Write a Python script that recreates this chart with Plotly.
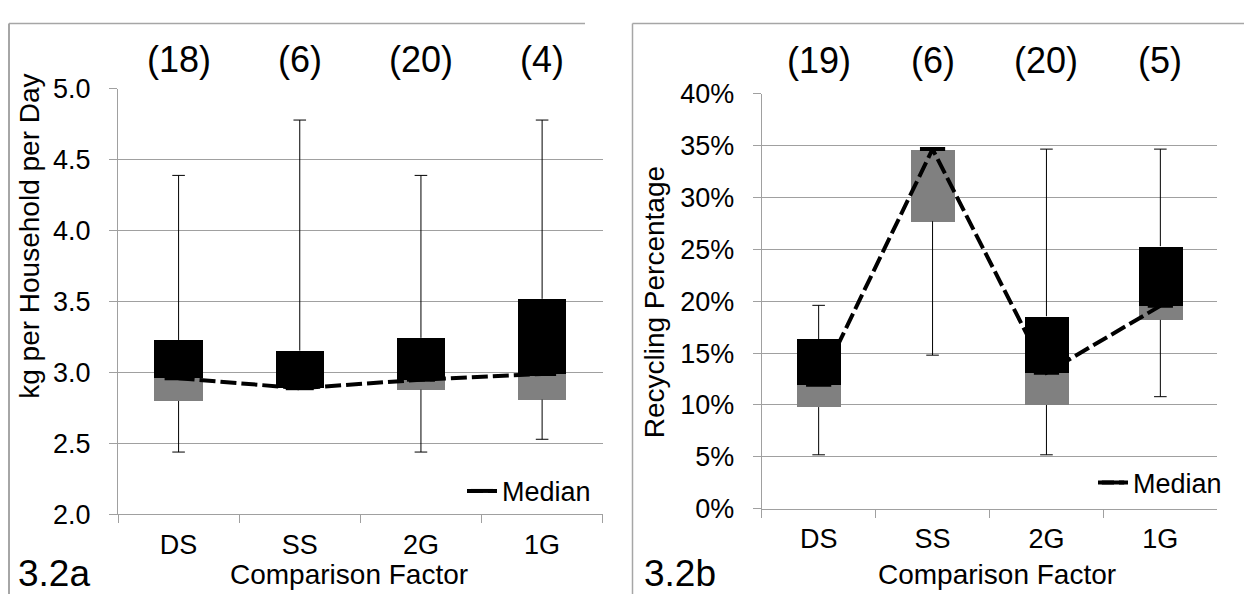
import plotly.graph_objects as go

# The page body keeps the browser's default 8px margin, so the figure is
# sized to fill the rest of the 1252x609 window and positions are offset.
WIN_W, WIN_H = 1252, 609
OFF = 8
W, H = WIN_W - OFF, WIN_H - OFF

categories = ["DS", "SS", "2G", "1G"]

# Panel 3.2a : kg per household per day
a_min = [2.44, 2.89, 2.44, 2.53]
a_q1 = [2.80, 2.89, 2.88, 2.81]
a_median = [2.96, 2.89, 2.95, 2.99]
a_q3 = [3.23, 3.155, 3.245, 3.52]
a_max = [4.39, 4.78, 4.39, 4.78]
a_counts = ["(18)", "(6)", "(20)", "(4)"]

# Panel 3.2b : recycling percentage (%)
b_min = [5.2, 14.8, 5.2, 10.8]
b_q1 = [9.8, 27.7, 10.0, 18.2]
b_median = [11.95, 34.65, 13.1, 19.55]
b_q3 = [16.35, 34.65, 18.55, 25.3]
b_max = [19.6, 34.65, 34.65, 34.65]
b_counts = ["(19)", "(6)", "(20)", "(5)"]

GRID = "#a0a0a0"
GREY = "#808080"
FONT = "Liberation Sans, Arial, sans-serif"


def fx(px):
    return (px - OFF) / W


def fy(py):
    return 1 - (py - OFF) / H


fig = go.Figure()


def add_panel(xa, ya, mn, q1, med, q3, mx, box_w, mark_size, legend_name):
    # grey: Q1 -> median
    fig.add_trace(go.Bar(x=categories, y=[m - a for m, a in zip(med, q1)], base=q1,
                         width=box_w, marker=dict(color=GREY, line=dict(width=0)),
                         xaxis=xa, yaxis=ya, showlegend=False, hoverinfo="skip"))
    # black: median -> Q3
    fig.add_trace(go.Bar(x=categories, y=[b - m for b, m in zip(q3, med)], base=med,
                         width=box_w, marker=dict(color="black", line=dict(width=0)),
                         xaxis=xa, yaxis=ya, showlegend=False, hoverinfo="skip"))
    # whiskers
    wx, wy, cx, cy = [], [], [], []
    for c, lo, a, b, hi in zip(categories, mn, q1, q3, mx):
        if hi > b:
            wx += [c, c, None]
            wy += [b, hi, None]
            cx.append(c)
            cy.append(hi)
        if lo < a:
            wx += [c, c, None]
            wy += [a, lo, None]
            cx.append(c)
            cy.append(lo)
    fig.add_trace(go.Scatter(x=wx, y=wy, mode="lines", line=dict(color="black", width=1),
                             xaxis=xa, yaxis=ya, showlegend=False, hoverinfo="skip"))
    fig.add_trace(go.Scatter(x=cx, y=cy, mode="markers",
                             marker=dict(symbol="line-ew", size=9, line=dict(color="black", width=1)),
                             xaxis=xa, yaxis=ya, showlegend=False, hoverinfo="skip"))
    # median line
    fig.add_trace(go.Scatter(x=categories, y=med, mode="lines+markers", name="Median",
                             line=dict(color="black", width=4, dash="16px,5px"),
                             marker=dict(symbol="line-ew", size=mark_size,
                                         line=dict(color="black", width=4)),
                             xaxis=xa, yaxis=ya, legend=legend_name, showlegend=True,
                             hoverinfo="skip"))


add_panel("x", "y", a_min, a_q1, a_median, a_q3, a_max, 0.4, 20, "legend")
add_panel("x2", "y2", b_min, b_q1, b_median, b_q3, b_max, 0.385, 18, "legend2")

axis_common = dict(showline=True, linecolor=GRID, linewidth=1, ticks="outside", ticklen=8,
                   tickcolor=GRID, tickfont=dict(family=FONT, size=27, color="black"),
                   zeroline=False, fixedrange=True)

xcommon = dict(axis_common, type="category", categoryorder="array", categoryarray=categories,
               tickson="boundaries", showgrid=False, ticklabelstandoff=6)
ycommon = dict(axis_common, showgrid=True, gridcolor=GRID, gridwidth=1, ticklabelstandoff=13)

count_font = dict(family=FONT, size=36, color="black")
annotations = []
for c, t in zip(categories, a_counts):
    annotations.append(dict(x=c, y=fy(46), xref="x", yref="paper", text=t, showarrow=False,
                            font=count_font, xanchor="center", yanchor="middle"))
for c, t in zip(categories, b_counts):
    annotations.append(dict(x=c, y=fy(47), xref="x2", yref="paper", text=t, showarrow=False,
                            font=count_font, xanchor="center", yanchor="middle"))

title_font = dict(family=FONT, size=28, color="black")
annotations += [
    dict(x=fx(349), y=fy(589), xref="paper", yref="paper", text="Comparison Factor",
         showarrow=False, font=title_font, xanchor="center", yanchor="middle"),
    dict(x=fx(997), y=fy(589), xref="paper", yref="paper", text="Comparison Factor",
         showarrow=False, font=title_font, xanchor="center", yanchor="middle"),
    dict(x=fx(30), y=fy(233), xref="paper", yref="paper", text="kg per Household per Day",
         showarrow=False, font=title_font, textangle=-90, xanchor="center", yanchor="middle"),
    dict(x=fx(654), y=fy(302), xref="paper", yref="paper", text="Recycling Percentage",
         showarrow=False, font=title_font, textangle=-90, xanchor="center", yanchor="middle"),
    dict(x=fx(16), y=fy(587), xref="paper", yref="paper", text="3.2a",
         showarrow=False, font=dict(family=FONT, size=37, color="black"),
         xanchor="left", yanchor="middle"),
    dict(x=fx(642), y=fy(587), xref="paper", yref="paper", text="3.2b",
         showarrow=False, font=dict(family=FONT, size=37, color="black"),
         xanchor="left", yanchor="middle"),
]

FRAME = "#a6a6a6"
shapes = [
    dict(type="line", xref="paper", yref="paper", x0=fx(9), x1=fx(9), y0=fy(8.5), y1=0,
         line=dict(color=FRAME, width=2)),
    dict(type="line", xref="paper", yref="paper", x0=fx(9), x1=fx(585), y0=fy(8.5), y1=fy(8.5),
         line=dict(color=FRAME, width=1.5)),
    dict(type="line", xref="paper", yref="paper", x0=fx(632.5), x1=fx(632.5), y0=fy(8.5), y1=0,
         line=dict(color=FRAME, width=1.5)),
    dict(type="line", xref="paper", yref="paper", x0=fx(632.5), x1=1, y0=fy(8.5), y1=fy(8.5),
         line=dict(color=FRAME, width=1.5)),
]

legend_common = dict(bgcolor="rgba(0,0,0,0)", borderwidth=0,
                     font=dict(family=FONT, size=27, color="black"),
                     xanchor="left", yanchor="middle", itemclick=False, itemdoubleclick=False)

fig.update_layout(
    width=W, height=H,
    margin=dict(l=0, r=0, t=0, b=0),
    paper_bgcolor="white", plot_bgcolor="white",
    barmode="overlay", bargap=0,
    xaxis=dict(xcommon, domain=[fx(118), fx(602.7)], anchor="y"),
    yaxis=dict(ycommon, domain=[fy(525.3), fy(77.3)], anchor="x", range=[2, 5],
               tick0=2, dtick=0.5, tickformat=".1f"),
    xaxis2=dict(xcommon, domain=[fx(761.7), fx(1217.3)], anchor="y2"),
    yaxis2=dict(ycommon, domain=[fy(519.3), fy(82.3)], anchor="x2", range=[0, 40],
                tick0=0, dtick=5, ticksuffix="%"),
    legend=dict(legend_common, x=fx(462), y=fy(501)),
    legend2=dict(legend_common, x=fx(1093), y=fy(492)),
    annotations=annotations,
    shapes=shapes,
    showlegend=True,
)

fig.write_html("out.html")
